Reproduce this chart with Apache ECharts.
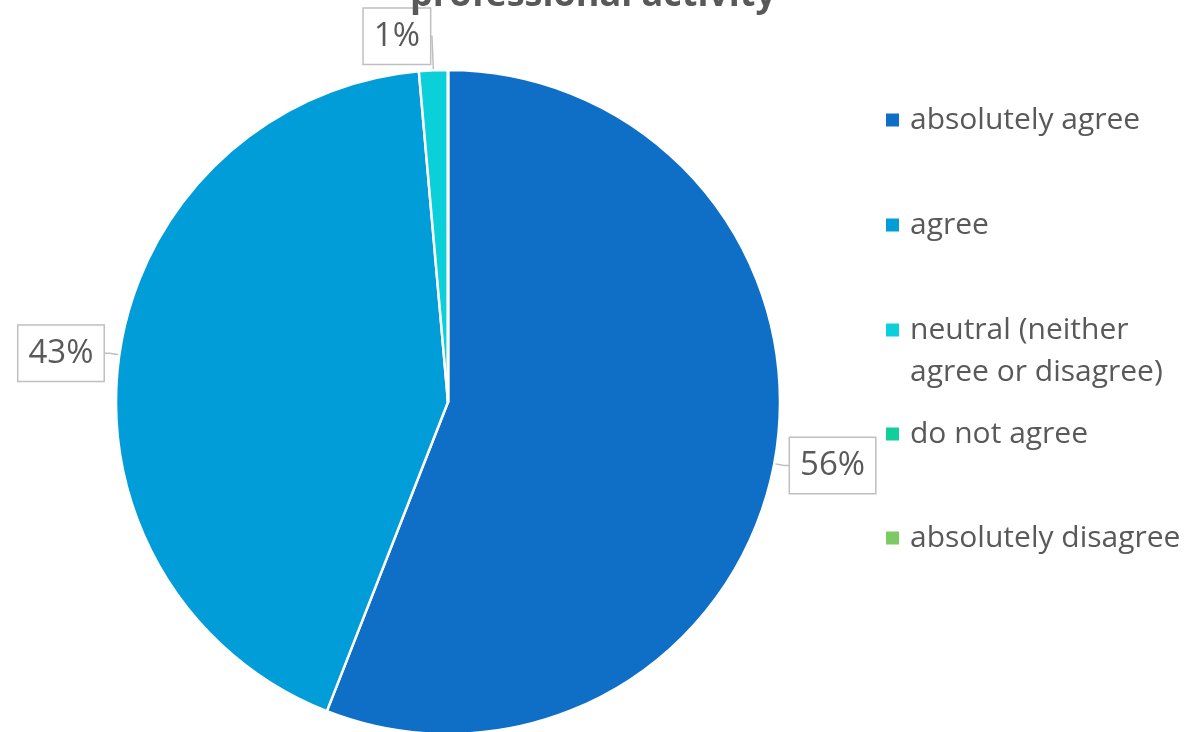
<!DOCTYPE html>
<html>
<head>
<meta charset="utf-8">
<script src="https://cdn.jsdelivr.net/npm/echarts@6/dist/echarts.min.js"></script>
<style>
html,body{margin:0;padding:0;background:#fff;}
#chart{width:1186px;height:732px;}
</style>
</head>
<body>
<div id="chart"></div>
<script>
// ---- data ----
const titleText = 'professional activity';
const categories = ['absolutely agree', 'agree', 'neutral (neither\nagree or disagree)', 'do not agree', 'absolutely disagree'];
const responses = [80, 61, 2, 0, 0];
const colors = ['#0f6fc6', '#009dd9', '#0bd0d9', '#10cf9b', '#7cca62'];

// ---- build ----
const chart = echarts.init(document.getElementById('chart'));
const fontFamily = '"Open Sans", "Noto Sans", sans-serif';
const textGray = '#595959';

// per-category legend placement and label-line tweaks
const legendTops = [99, 204, 267, 413, 517];
const lineLen = [10, 10, 34];
const lineLen2 = [6, 6, 2];

const data = categories.map((c, i) => ({
  name: c,
  value: responses[i],
  itemStyle: { color: colors[i] },
  label: { show: responses[i] > 0 },
  labelLine: { show: responses[i] > 0, length: lineLen[i] || 10, length2: lineLen2[i] || 6 }
}));

const legends = categories.map((c, i) => {
  const twoLine = c.indexOf('\n') >= 0;
  return {
    data: [c],
    left: 884,
    top: legendTops[i],
    orient: 'vertical',
    padding: 0,
    icon: 'rect',
    itemWidth: 15,
    itemHeight: 15,
    selectedMode: false,
    // a blank first line keeps the marker level with the first text line
    formatter: name => twoLine ? ' \n' + name : name,
    textStyle: {
      fontFamily: fontFamily,
      fontSize: 30,
      color: textGray,
      lineHeight: 42,
      padding: [0, 0, 0, 5]
    }
  };
});

chart.setOption({
  animation: false,
  color: colors,
  title: {
    text: titleText,
    left: 'center',
    top: -27,
    textStyle: { fontFamily: fontFamily, fontSize: 36, fontWeight: 'bold', color: textGray }
  },
  legend: legends,
  series: [{
    type: 'pie',
    center: [448, 402],
    radius: 332,
    startAngle: 90,
    clockwise: true,
    avoidLabelOverlap: false,
    itemStyle: { borderColor: '#ffffff', borderWidth: 2.5 },
    label: {
      show: true,
      position: 'outside',
      formatter: p => Math.round(p.percent) + '%',
      fontFamily: fontFamily,
      fontSize: 33,
      lineHeight: 37,
      color: textGray,
      backgroundColor: '#ffffff',
      borderColor: '#bfbfbf',
      borderWidth: 1.5,
      padding: [9, 10, 9, 10],
      distanceToLabelLine: 0
    },
    labelLine: {
      show: true,
      lineStyle: { color: '#bfbfbf', width: 1.5 }
    },
    data: data
  }]
});
</script>
</body>
</html>
